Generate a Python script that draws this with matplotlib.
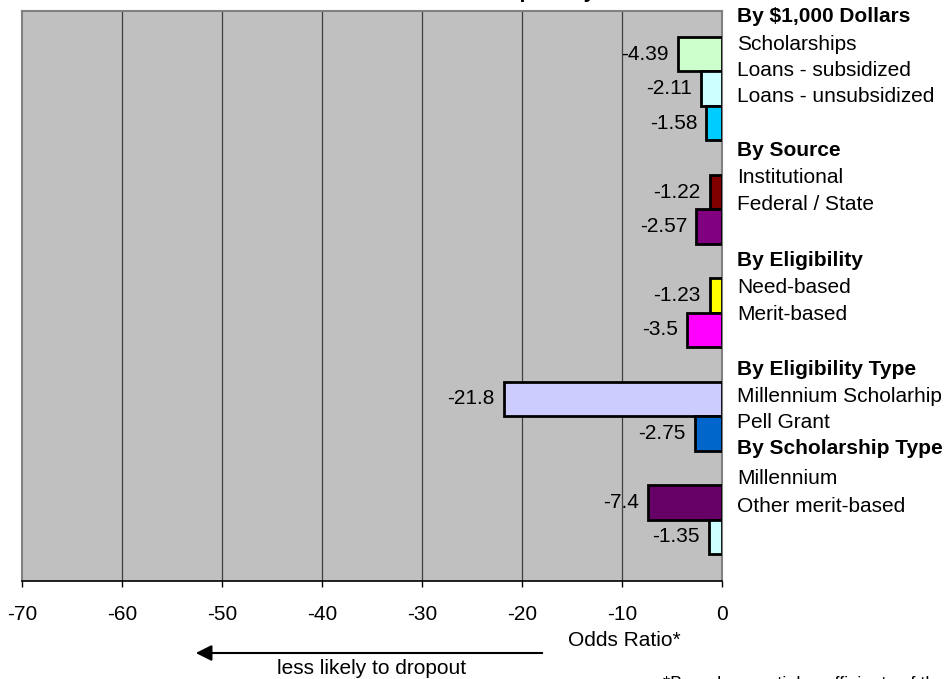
import matplotlib
matplotlib.use("Agg")
import matplotlib.pyplot as plt
from matplotlib.patches import FancyArrowPatch

plt.rcParams['font.family'] = ['Liberation Sans', 'DejaVu Sans']

# Odds ratios for each aid variable, top to bottom
bar_labels = ["Scholarships", "Loans - subsidized", "Loans - unsubsidized",
              "Institutional", "Federal / State",
              "Need-based", "Merit-based",
              "Millennium Scholarhip", "Pell Grant",
              "Millennium", "Other merit-based"]
values = [-4.39, -2.11, -1.58, -1.22, -2.57, -1.23, -3.5, -21.8, -2.75, -7.4, -1.35]
value_text = ["-4.39", "-2.11", "-1.58", "-1.22", "-2.57", "-1.23", "-3.5",
              "-21.8", "-2.75", "-7.4", "-1.35"]
colors = ["#CCFFCC", "#CCFFFF", "#00CCFF", "#800000", "#800080", "#FFFF00",
          "#FF00FF", "#CCCCFF", "#0066CC", "#660066", "#CCFFFF"]
# slot index of each bar (empty slots separate the groups)
slots = [0, 1, 2, 4, 5, 7, 8, 10, 11, 13, 14]

x_ticks = [-70, -60, -50, -40, -30, -20, -10, 0]

# legend block on the right: (text, bold, y pixel from top)
legend_rows = [
    ("By $1,000 Dollars", True, 16),
    ("Scholarships", False, 45),
    ("Loans - subsidized", False, 70),
    ("Loans - unsubsidized", False, 96),
    ("By Source", True, 151),
    ("Institutional", False, 178),
    ("Federal / State", False, 204),
    ("By Eligibility", True, 260),
    ("Need-based", False, 287),
    ("Merit-based", False, 314),
    ("By Eligibility Type", True, 370),
    ("Millennium Scholarhip", False, 396),
    ("Pell Grant", False, 423),
    ("By Scholarship Type", True, 449),
    ("Millennium", False, 479),
    ("Other merit-based", False, 506),
]

FS = 15
W, H = 950, 679
fig = plt.figure(figsize=(W / 100, H / 100), dpi=100)
fig.patch.set_facecolor("white")

left, right, top, bottom = 22, 722, 11, 581
ax = fig.add_axes([left / W, 1 - bottom / H, (right - left) / W, (bottom - top) / H])
ax.set_facecolor("#C0C0C0")

slot_px = 34.45
top_pad = (37 - top) / slot_px
bot_pad = (bottom - 554 - slot_px) / slot_px + 1
ax.set_ylim(14 + 0.5 + bot_pad, -0.5 - top_pad)
ax.set_xlim(-70, 0)

for x in x_ticks[1:-1]:
    ax.axvline(x, color="#404040", lw=0.9, zorder=1)

ax.barh(slots, values, height=1.0, color=colors, edgecolor="black",
        linewidth=2.0, zorder=3)

for s, v, t in zip(slots, values, value_text):
    ax.text(v - 0.9, s, t, ha="right", va="center", fontsize=FS,
            color="black", zorder=4)

for side in ("top", "left", "right"):
    ax.spines[side].set_color("#808080")
    ax.spines[side].set_linewidth(1.5)
ax.spines["bottom"].set_color("black")
ax.spines["bottom"].set_linewidth(1.2)

ax.set_yticks([])
ax.set_xticks(x_ticks)
ax.set_xticklabels([str(t) for t in x_ticks], fontsize=FS)
ax.tick_params(axis="x", direction="out", length=4.5, width=1, pad=13)

# legend text on the right
for text, bold, ypx in legend_rows:
    fig.text(737 / W, 1 - ypx / H, text, ha="left", va="center",
             fontsize=FS, fontweight="bold" if bold else "normal")

# title sits mostly above the top edge
fig.text(530 / W, 1 - 2 / H, "Odds Ratios of Dropout by Financial Aid",
         ha="center", va="bottom", fontsize=FS, fontweight="bold")

fig.text(624 / W, 1 - 640 / H, "Odds Ratio*", ha="center", va="center",
         fontsize=FS)
fig.text(372 / W, 1 - 668 / H, "less likely to dropout", ha="center",
         va="center", fontsize=FS)

arrow = FancyArrowPatch((545 / W, 1 - 653 / H), (193 / W, 1 - 653 / H),
                        transform=fig.transFigure, arrowstyle="-|>",
                        mutation_scale=24, lw=1.5, color="black")
fig.patches.append(arrow)

fig.text(663 / W, 1 - 676 / H,
         "*Based on partial coefficients of the logistic regression",
         ha="left", va="top", fontsize=13)

fig.savefig("out.png", dpi=100)
